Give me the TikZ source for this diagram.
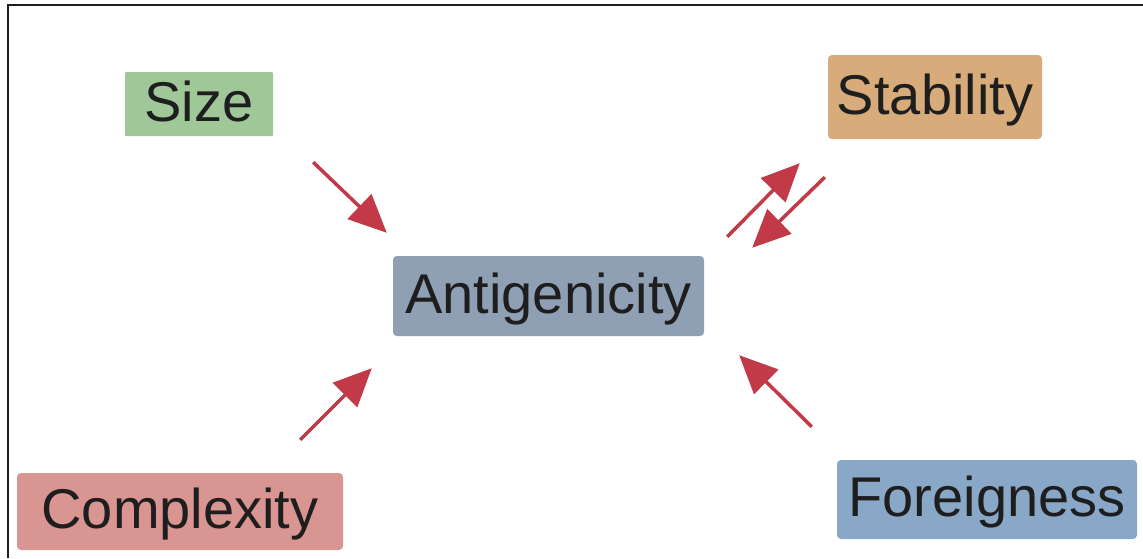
\documentclass[tikz,border=0pt]{standalone}
\usepackage{fontspec}
\setmainfont{Liberation Sans}
\usetikzlibrary{arrows.meta}
\definecolor{sizeg}{HTML}{9FC797}
\definecolor{stabo}{HTML}{D7AB7A}
\definecolor{antib}{HTML}{8FA0B4}
\definecolor{compr}{HTML}{D89591}
\definecolor{forb}{HTML}{89A8C8}
\definecolor{arrred}{HTML}{C23A48}
\definecolor{txt}{HTML}{1E1E1E}
\tikzset{
  factor/.style={rectangle, rounded corners=4pt, inner sep=0pt, text=txt,
    font=\fontsize{56}{60}\selectfont, text height=40pt, text depth=6pt},
  arr/.style={draw=arrred, line width=3.5pt, -{Triangle[length=38pt,width=34pt]}, fill=arrred},
  frameline/.style={draw=txt, line width=2.8pt}
}
\begin{document}
\begin{tikzpicture}[x=1pt,y=-1pt]
\useasboundingbox (0,0) rectangle (1143,558);
\fill[white] (0,0) rectangle (1143,558);
\coordinate (fbl) at (8,558);
\coordinate (ftl) at (8,5);
\coordinate (ftr) at (1143,5);
\draw[frameline] (fbl) -- (ftl) -- (ftr);

\node[factor, fill=sizeg, rounded corners=1pt, minimum width=148pt, minimum height=64pt] (size) at (199,104) {Size};
\node[factor, fill=stabo, minimum width=214pt, minimum height=84pt] (stab) at (935,97) {Stability};
\node[factor, fill=antib, minimum width=311pt, minimum height=80pt] (anti) at (548.5,296) {Antigenicity};
\node[factor, fill=compr, minimum width=326pt, minimum height=77pt] (comp) at (180,511.5) {Complexity};
\node[factor, fill=forb, minimum width=300pt, minimum height=79pt] (fore) at (987,499.5) {Foreigness};

\draw[arr] ([shift={(40,26)}]size.south east) -- ([shift={(-6,-23)}]anti.north west);
\draw[arr] ([shift={(23,-19)}]anti.north east) -- ([shift={(-28,24)}]stab.south west);
\draw[arr] ([shift={(-3,38)}]stab.south west) -- ([shift={(48,-8)}]anti.north east);
\draw[arr] ([shift={(-43,-33)}]comp.north east) -- ([shift={(-21,32)}]anti.south west);
\draw[arr] ([shift={(-25,-33)}]fore.north west) -- ([shift={(35,19)}]anti.south east);
\end{tikzpicture}
\end{document}
